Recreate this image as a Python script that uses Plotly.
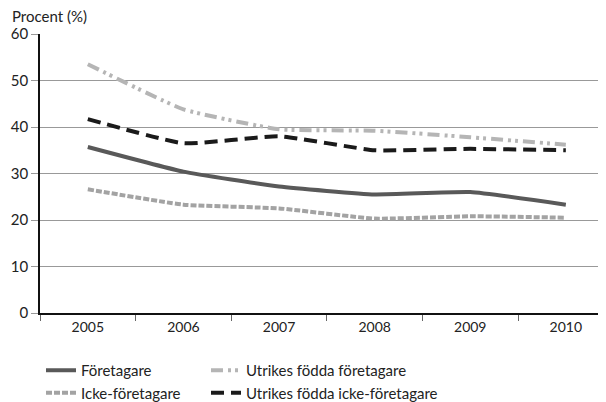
import plotly.graph_objects as go

years = ["2005", "2006", "2007", "2008", "2009", "2010"]
foretagare = [35.7, 30.4, 27.2, 25.5, 26.0, 23.3]
icke_foretagare = [26.6, 23.3, 22.5, 20.3, 20.8, 20.5]
utr_foretagare = [53.5, 43.8, 39.5, 39.2, 37.8, 36.2]
utr_icke_foretagare = [41.7, 36.5, 38.0, 35.0, 35.3, 35.0]

FONT = "Lato"
W, H = 598, 394  # page body has an 8px default margin
L, T, B = 32, 26, 89
PW, PH = W - L, H - T - B

fig = go.Figure()
line_kw = dict(shape="spline", smoothing=0.4, width=4)

fig.add_trace(go.Scatter(x=years, y=foretagare, mode="lines", name="Företagare",
                         line=dict(color="#595959", **line_kw), legend="legend"))
fig.add_trace(go.Scatter(x=years, y=icke_foretagare, mode="lines", name="Icke-företagare",
                         line=dict(color="#a3a3a3", dash="6px,2px", **line_kw), legend="legend"))
fig.add_trace(go.Scatter(x=years, y=utr_foretagare, mode="lines", name="Utrikes födda företagare",
                         line=dict(color="#b5b5b5", dash="12px,5px,3px,4px,3px,5px", **line_kw), legend="legend2"))
fig.add_trace(go.Scatter(x=years, y=utr_icke_foretagare, mode="lines", name="Utrikes födda icke-företagare",
                         line=dict(color="#1a1a1a", dash="13px,7px", **line_kw), legend="legend2"))

leg_common = dict(yref="container", xref="container", y=1 - 346 / H, xanchor="left", yanchor="top",
                  orientation="v", font=dict(size=15, color="#222"), tracegroupgap=0,
                  itemwidth=30, bgcolor="rgba(0,0,0,0)")

fig.update_layout(
    width=W, height=H,
    margin=dict(l=L, r=0, t=T, b=B, autoexpand=False),
    paper_bgcolor="white", plot_bgcolor="white",
    font=dict(family=FONT, size=14, color="#222"),
    showlegend=True,
    legend=dict(x=33 / W, **leg_common),
    legend2=dict(x=198 / W, **leg_common),
    annotations=[dict(text="Procent (%)", x=(2 - L) / PW, y=(PH + T - 18.5) / PH,
                      xref="paper", yref="paper", xanchor="left", yanchor="bottom",
                      showarrow=False, font=dict(size=15, color="#222"))],
)

fig.update_xaxes(type="category", range=[-0.5, 5.42], showgrid=False,
                 showline=True, linecolor="#111", linewidth=1.5,
                 ticks="outside", tickson="boundaries", ticklen=6, tickcolor="#666",
                 tickfont=dict(size=14, color="#222"), fixedrange=True, automargin=False)
fig.update_yaxes(range=[0, 60], tickvals=[0, 10, 20, 30, 40, 50, 60],
                 showgrid=True, gridcolor="#999", gridwidth=1,
                 showline=True, linecolor="#111", linewidth=1.5,
                 ticks="outside", ticklen=7, tickcolor="#999",
                 zeroline=False, tickfont=dict(size=15, color="#222"), automargin=False)

fig.write_html("out.html")
